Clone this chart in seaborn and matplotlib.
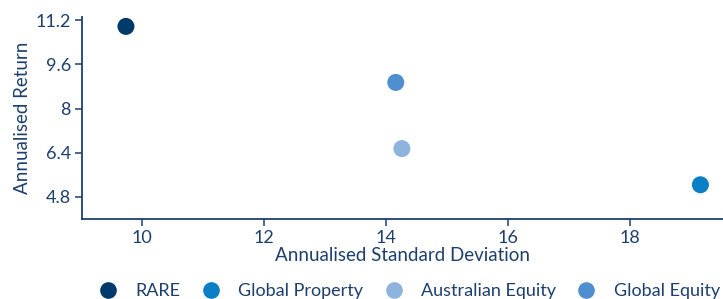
import pandas as pd
import seaborn as sns
import matplotlib.pyplot as plt

# Données
actifs = ['RARE', 'Global Property', 'Australian Equity', 'Global Equity']
ecart_type = [9.74, 19.15, 14.26, 14.16]
rendement = [10.98, 5.24, 6.55, 8.95]
couleurs = ['#003a6b', '#0a7fc6', '#8fb3df', '#4f8fcf']

x_ticks = [10, 12, 14, 16, 18]
y_ticks = [4.8, 6.4, 8, 9.6, 11.2]
y_labels = ['4.8', '6.4', '8', '9.6', '11.2']

donnees = pd.DataFrame({'Actif': actifs, 'Ecart': ecart_type, 'Rendement': rendement})

sns.set_style('white')
plt.rcParams['font.family'] = ['Lato', 'DejaVu Sans']
texte = '#1d3f6e'

fig = plt.figure(figsize=(7.23, 2.99), dpi=100)
ax = fig.add_axes([0.1134, 0.2676, 0.8866, 0.6754])

sns.scatterplot(data=donnees, x='Ecart', y='Rendement', hue='Actif',
                palette=dict(zip(actifs, couleurs)), s=150, linewidth=0,
                ax=ax, legend=False)

ax.set_xlim(9.02, 19.52)
ax.set_ylim(4.0, 11.32)
ax.set_xticks(x_ticks)
ax.set_yticks(y_ticks)
ax.set_yticklabels(y_labels)

for side in ['top', 'right']:
    ax.spines[side].set_visible(False)
for side in ['left', 'bottom']:
    ax.spines[side].set_color(texte)
    ax.spines[side].set_linewidth(1.3)
ax.tick_params(axis='both', direction='out', length=5, width=1.1,
               colors=texte, labelsize=13, left=True, bottom=True, pad=3)

ax.set_xlabel('Annualised Standard Deviation', color=texte, fontsize=13.5, labelpad=1)
ax.set_ylabel('Annualised Return', color=texte, fontsize=13.5, labelpad=3)

# Légende en bas
poignees = [plt.Line2D([], [], marker='o', linestyle='', markersize=12,
                       markerfacecolor=c, markeredgewidth=0) for c in couleurs]
fig.legend(poignees, actifs, loc='lower center', ncol=4, frameon=False,
           bbox_to_anchor=(0.565, -0.055), fontsize=13, labelcolor=texte,
           handletextpad=0.9, columnspacing=1.1, handlelength=1.2)

fig.savefig('out.png', dpi=100)
